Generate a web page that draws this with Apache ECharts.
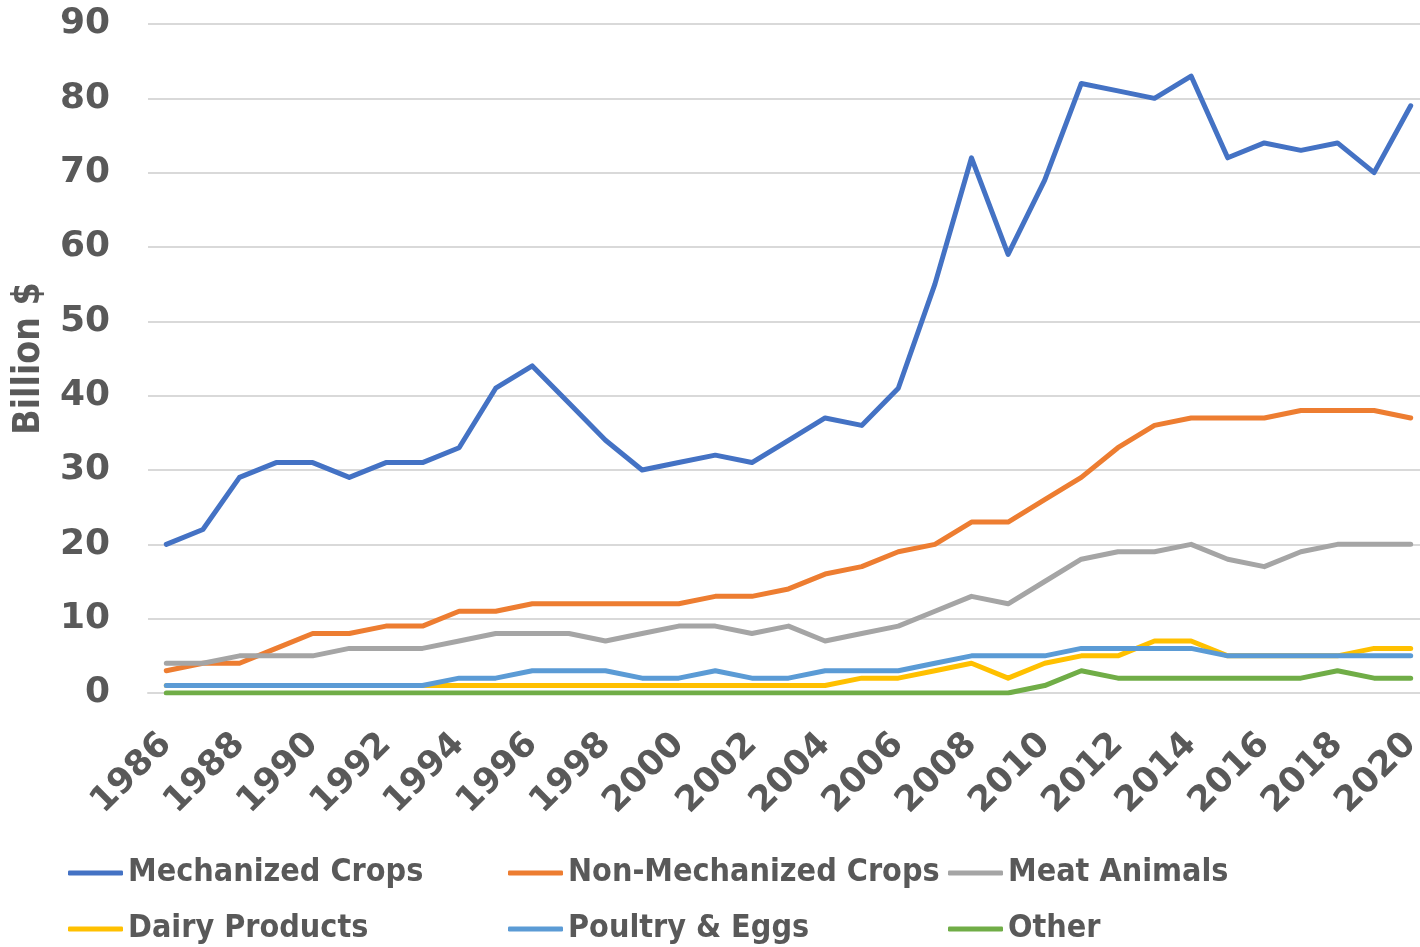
<!DOCTYPE html>
<html>
<head>
<meta charset="utf-8">
<script src="https://cdn.jsdelivr.net/npm/echarts@6/dist/echarts.min.js"></script>
<style>html,body{margin:0;padding:0;background:#fff}#c{width:1420px;height:947px}</style>
</head>
<body>
<div id="c"></div>
<script>
const years = ['1986','1987','1988','1989','1990','1991','1992','1993','1994','1995','1996','1997','1998','1999','2000','2001','2002','2003','2004','2005','2006','2007','2008','2009','2010','2011','2012','2013','2014','2015','2016','2017','2018','2019','2020'];
const mechanized = [20,22,29,31,31,29,31,31,33,41,44,39,34,30,31,32,31,34,37,36,41,55,72,59,69,82,81,80,83,72,74,73,74,70,79];
const nonMechanized = [3,4,4,6,8,8,9,9,11,11,12,12,12,12,12,13,13,14,16,17,19,20,23,23,26,29,33,36,37,37,37,38,38,38,37];
const meatAnimals = [4,4,5,5,5,6,6,6,7,8,8,8,7,8,9,9,8,9,7,8,9,11,13,12,15,18,19,19,20,18,17,19,20,20,20];
const dairy = [1,1,1,1,1,1,1,1,1,1,1,1,1,1,1,1,1,1,1,2,2,3,4,2,4,5,5,7,7,5,5,5,5,6,6];
const poultry = [1,1,1,1,1,1,1,1,2,2,3,3,3,2,2,3,2,2,3,3,3,4,5,5,5,6,6,6,6,5,5,5,5,5,5];
const other = [0,0,0,0,0,0,0,0,0,0,0,0,0,0,0,0,0,0,0,0,0,0,0,0,1,3,2,2,2,2,2,2,3,2,2];
const seriesNames = ['Mechanized Crops','Non-Mechanized Crops','Meat Animals','Dairy Products','Poultry & Eggs','Other'];
const seriesData = [mechanized, nonMechanized, meatAnimals, dairy, poultry, other];
const colors = ['#4472C4','#ED7D31','#A5A5A5','#FFC000','#5B9BD5','#70AD47'];
const yTicks = [0,10,20,30,40,50,60,70,80,90];

const txt = '#595959';
const legendFont = '"Liberation Sans Narrow", "DejaVu Sans Condensed", sans-serif';
const numFont = '"DejaVu Sans", sans-serif';
const legendPos = [[68,857],[508,857],[948,857],[68,913],[508,913],[948,913]];

const chart = echarts.init(document.getElementById('c'));
chart.setOption({
  animation: false,
  color: colors,
  grid: {left: 148, width: 1281, top: 24, bottom: 254, containLabel: false, outerBoundsMode: 'none'},
  legend: seriesNames.map((n,i) => ({
    data: [n], left: legendPos[i][0], top: legendPos[i][1],
    icon: 'roundRect', itemWidth: 55, itemHeight: 5, padding: 0,
    textStyle: {color: txt, fontSize: 32, fontWeight: 'bold', fontFamily: legendFont, padding: [0,0,0,0]}
  })),
  xAxis: {
    type: 'category', data: years, boundaryGap: true,
    axisLine: {show: true, lineStyle: {color: '#d9d9d9', width: 2}},
    axisTick: {show: false},
    axisLabel: {interval: 1, rotate: 45, color: txt, fontSize: 35, fontWeight: 'bold', fontFamily: numFont, margin: 46}
  },
  yAxis: {
    type: 'value', min: 0, max: 90, interval: 10,
    name: 'Billion $', nameLocation: 'middle', nameGap: 100, nameRotate: 90,
    nameTextStyle: {color: txt, fontSize: 37, fontWeight: 'bold', fontFamily: legendFont},
    axisLine: {show: false}, axisTick: {show: false},
    splitLine: {lineStyle: {color: '#d9d9d9', width: 2}},
    axisLabel: {color: txt, fontSize: 36, fontWeight: 'bold', fontFamily: numFont, margin: 38,
      formatter: v => yTicks.includes(v) ? String(v) : ''}
  },
  series: seriesNames.map((n,i) => ({
    name: n, type: 'line', data: seriesData[i], symbol: 'none', showSymbol: false,
    lineStyle: {width: 5, color: colors[i], cap: 'round', join: 'round'},
    itemStyle: {color: colors[i]}
  }))
});
</script>
</body>
</html>
